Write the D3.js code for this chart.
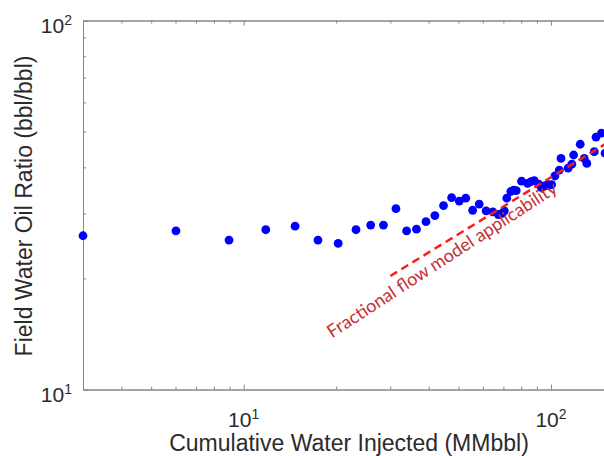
<!DOCTYPE html>
<html>
<head>
<meta charset="utf-8">
<script src="https://cdn.jsdelivr.net/npm/d3@7"></script>
<style>
  html, body { margin: 0; padding: 0; background: #fff; }
  svg { display: block; }
</style>
</head>
<body>
<svg id="chart" width="604" height="456"></svg>
<script>
// Cumulative water injected (MMbbl)
const injected = [3.0, 6.02, 8.96, 11.8, 14.7, 17.45, 20.3, 23.2, 25.9, 28.5,
  31.3, 33.9, 36.5, 39.2, 41.9, 44.7, 47.5, 50.3, 52.8, 55.6,
  58.4, 61.5, 64.7, 67.4, 69.4, 70.5, 71.8, 74.0, 75.6, 77.1,
  80.2, 83.9, 86.1, 88.2, 91.2, 92.9, 95.3, 97.6, 99.0, 100.5,
  103, 106.4, 107.8, 113.7, 116.9, 118.5, 124.5, 128.3, 130.8, 138.3,
  140.1, 146, 150];
// Field water-oil ratio (bbl/bbl)
const wor = [26.1, 26.9, 25.4, 27.1, 27.7, 25.4, 24.9, 27.1, 27.9, 27.9,
  30.9, 26.9, 27.2, 28.5, 29.6, 31.5, 33.1, 32.4, 33.0, 30.6,
  31.8, 30.5, 30.3, 29.8, 30.0, 30.5, 33.0, 34.4, 34.7, 34.6,
  36.7, 36.2, 36.6, 36.8, 36.0, 35.3, 35.6, 35.9, 35.8, 35.9,
  37.9, 39.3, 42.3, 39.8, 40.8, 43.2, 46.2, 42.3, 41.0, 44.1,
  48.3, 49.5, 43.7];

// Fractional flow trend line end points
const trendX = [30, 200];
const trendY = [20.3, 53.6];
const trendLabel = "Fractional flow model applicability";
const labelAt = [19.4, 13.75];

// Axis ticks
const xMajor = [10, 100];
const xMinor = [4, 5, 6, 7, 8, 9, 20, 30, 40, 50, 60, 70, 80, 90];
const yMajor = [10, 100];
const yMinor = [20, 30, 40, 50, 60, 70, 80, 90];
const xTitle = "Cumulative Water Injected (MMbbl)";
const yTitle = "Field Water Oil Ratio (bbl/bbl)";

const svg = d3.select("#chart");
const plotLeft = 83, plotTop = 20.5, plotBottom = 389.5;
const decadeX = 307.3;
const xDomain = [3, 200];

const x = d3.scaleLog().domain(xDomain)
  .range([plotLeft, plotLeft + decadeX * Math.log10(xDomain[1] / xDomain[0])]);
const y = d3.scaleLog().domain([10, 100]).range([plotBottom, plotTop]);

const axisColor = "#868686";
const textColor = "#2b2b2b";
const font = "'Liberation Sans', Arial, Helvetica, sans-serif";

// Box axes with inward ticks
function styleAxis(g) {
  g.select(".domain").attr("stroke", axisColor).attr("stroke-width", 1);
  g.selectAll(".tick line").attr("stroke", axisColor).attr("stroke-width", 1);
  g.selectAll(".tick text").remove();
}
const axes = svg.append("g");
const mk = (fn, scale, vals, size) => fn(scale).tickValues(vals).tickSize(size).tickSizeOuter(0).tickFormat("");

axes.append("g").attr("transform", `translate(0,${plotBottom})`).call(mk(d3.axisBottom, x, xMajor, -5)).call(styleAxis);
axes.append("g").attr("transform", `translate(0,${plotBottom})`).call(mk(d3.axisBottom, x, xMinor, -3)).call(styleAxis);
axes.append("g").attr("transform", `translate(0,${plotTop})`).call(mk(d3.axisTop, x, xMajor, -5)).call(styleAxis);
axes.append("g").attr("transform", `translate(0,${plotTop})`).call(mk(d3.axisTop, x, xMinor, -3)).call(styleAxis);
axes.append("g").attr("transform", `translate(${plotLeft},0)`).call(mk(d3.axisLeft, y, yMajor, -5)).call(styleAxis);
axes.append("g").attr("transform", `translate(${plotLeft},0)`).call(mk(d3.axisLeft, y, yMinor, -3)).call(styleAxis);

// Power-of-ten tick labels
const exp = v => Math.round(Math.log10(v));
const tl = svg.append("g").attr("font-family", font).attr("fill", textColor);
xMajor.forEach(v => {
  const t = tl.append("text").attr("x", x(v)).attr("y", plotBottom + 37)
    .attr("text-anchor", "middle").attr("font-size", 21);
  t.append("tspan").text("10");
  t.append("tspan").attr("dy", -8).attr("font-size", 14).text(exp(v));
});
yMajor.forEach(v => {
  const t = tl.append("text").attr("x", plotLeft - 11).attr("y", y(v) + 12)
    .attr("text-anchor", "end").attr("font-size", 21);
  t.append("tspan").text("10");
  t.append("tspan").attr("dy", -8).attr("font-size", 14).text(exp(v));
});

// Axis titles
svg.append("text").attr("x", 349).attr("y", 451)
  .attr("text-anchor", "middle").attr("font-family", font).attr("font-size", 23)
  .attr("fill", textColor).text(xTitle);
svg.append("text").attr("transform", "translate(32,206) rotate(-90)")
  .attr("text-anchor", "middle").attr("font-family", font).attr("font-size", 23)
  .attr("fill", textColor).text(yTitle);

// Data points
const pts = injected.map((d, i) => [d, wor[i]]);
svg.append("g").selectAll("circle").data(pts).join("circle")
  .attr("cx", d => x(d[0])).attr("cy", d => y(d[1])).attr("r", 4.4)
  .attr("fill", "#0000ff");

// Dashed trend line and its label
svg.append("line")
  .attr("x1", x(trendX[0])).attr("y1", y(trendY[0]))
  .attr("x2", x(trendX[1])).attr("y2", y(trendY[1]))
  .attr("stroke", "#ff1a1a").attr("stroke-width", 2.5)
  .attr("stroke-dasharray", "8,5");

const ang = -33;
svg.append("text")
  .attr("transform", `translate(${x(labelAt[0])},${y(labelAt[1])}) rotate(${ang})`)
  .attr("font-family", "Lato, 'Open Sans', sans-serif").attr("font-size", 18)
  .attr("fill", "#c42f36")
  .attr("textLength", 270).attr("lengthAdjust", "spacingAndGlyphs")
  .text(trendLabel);
</script>
</body>
</html>
